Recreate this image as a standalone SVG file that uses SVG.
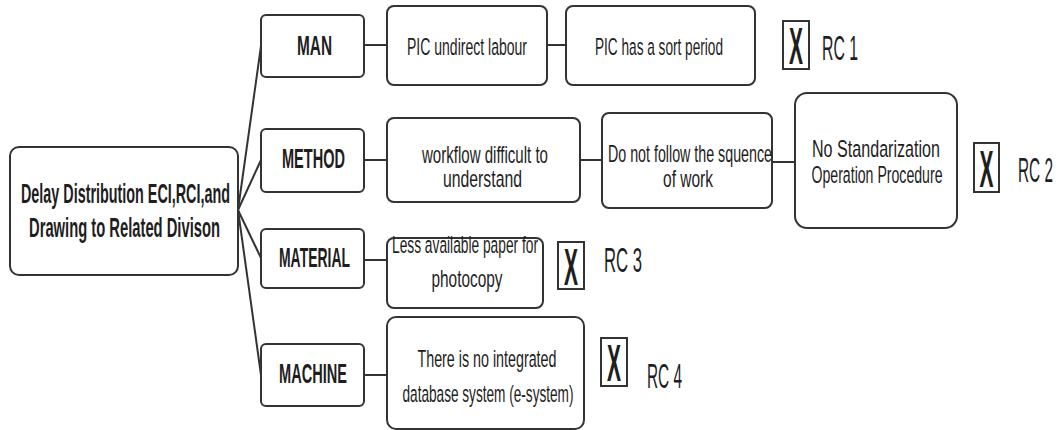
<svg xmlns="http://www.w3.org/2000/svg" width="1062" height="430" viewBox="0 0 1062 430">
  <style>
    .box { fill: #ffffff; stroke: #333333; stroke-width: 2; }
    .mark { fill: #ffffff; stroke: #333333; stroke-width: 2; }
    .link { stroke: #333333; stroke-width: 2; fill: none; }
    text { font-family: "Liberation Sans", Arial, sans-serif; fill: #1e1e1e; text-anchor: middle; }
    /* narrow, tall lettering: small font stretched vertically about its baseline */
    .t { font-size: 14.5px; }
    .b { font-size: 15.5px; font-weight: bold; }
    .x { font-size: 21px; font-weight: bold; }
    .rc { font-size: 15.8px; text-anchor: start; }
  </style>
  <rect width="1062" height="430" fill="#ffffff"/>

  <!-- connectors -->
  <g id="connectors">
    <line class="link" x1="238" y1="210" x2="261" y2="46"/>
    <line class="link" x1="238" y1="210" x2="261" y2="160"/>
    <line class="link" x1="238" y1="210" x2="261" y2="258"/>
    <line class="link" x1="238" y1="210" x2="261" y2="375"/>
    <line class="link" x1="364" y1="45" x2="387" y2="45"/>
    <line class="link" x1="547" y1="45" x2="566" y2="45"/>
    <line class="link" x1="364" y1="160" x2="387" y2="160"/>
    <line class="link" x1="580" y1="160" x2="602" y2="160"/>
    <line class="link" x1="772" y1="162" x2="795" y2="162"/>
    <line class="link" x1="364" y1="260" x2="387" y2="260"/>
    <line class="link" x1="364" y1="375" x2="387" y2="375"/>
  </g>

  <!-- root -->
  <g id="root">
    <rect class="box" x="10" y="147" width="228" height="128" rx="9"/>
    <text class="b" x="125.5" y="203" transform="matrix(1 0 0 1.8 0 -162.4)" textLength="209" lengthAdjust="spacingAndGlyphs">Delay Distribution ECI,RCI,and</text>
    <text class="b" x="124.5" y="237" transform="matrix(1 0 0 1.8 0 -189.6)" textLength="191" lengthAdjust="spacingAndGlyphs">Drawing to Related Divison</text>
  </g>

  <!-- categories -->
  <g id="man">
    <rect class="box" x="261" y="15" width="103" height="62" rx="5"/>
    <text class="b" x="314.5" y="55" transform="matrix(1 0 0 1.8 0 -44)" textLength="35" lengthAdjust="spacingAndGlyphs">MAN</text>
  </g>
  <g id="method">
    <rect class="box" x="261" y="129" width="103" height="63" rx="5"/>
    <text class="b" x="313.5" y="168" transform="matrix(1 0 0 1.8 0 -134.4)" textLength="63" lengthAdjust="spacingAndGlyphs">METHOD</text>
  </g>
  <g id="material">
    <rect class="box" x="261" y="229" width="103" height="59" rx="5"/>
    <text class="b" x="314.5" y="267" transform="matrix(1 0 0 1.8 0 -213.6)" textLength="71" lengthAdjust="spacingAndGlyphs">MATERIAL</text>
  </g>
  <g id="machine">
    <rect class="box" x="261" y="344" width="103" height="62" rx="5"/>
    <text class="b" x="313" y="383" transform="matrix(1 0 0 1.8 0 -306.4)" textLength="68" lengthAdjust="spacingAndGlyphs">MACHINE</text>
  </g>

  <!-- causes -->
  <g id="pic-labour">
    <rect class="box" x="387" y="6" width="160" height="79" rx="7"/>
    <text class="t" x="467" y="55" transform="matrix(1 0 0 1.7 0 -38.5)" textLength="120" lengthAdjust="spacingAndGlyphs">PIC undirect labour</text>
  </g>
  <g id="pic-period">
    <rect class="box" x="566" y="6" width="189" height="79" rx="7"/>
    <text class="t" x="659" y="55" transform="matrix(1 0 0 1.7 0 -38.5)" textLength="128" lengthAdjust="spacingAndGlyphs">PIC has a sort period</text>
  </g>
  <g id="workflow">
    <rect class="box" x="387" y="118" width="193" height="84" rx="7"/>
    <text class="t" x="485" y="163" transform="matrix(1 0 0 1.7 0 -114.1)" textLength="126" lengthAdjust="spacingAndGlyphs">workflow difficult to</text>
    <text class="t" x="482.5" y="187" transform="matrix(1 0 0 1.7 0 -130.9)" textLength="79" lengthAdjust="spacingAndGlyphs">understand</text>
  </g>
  <g id="sequence">
    <rect class="box" x="602" y="113" width="170" height="95" rx="7"/>
    <text class="t" x="690" y="162" transform="matrix(1 0 0 1.7 0 -113.4)" textLength="164" lengthAdjust="spacingAndGlyphs">Do not follow the squence</text>
    <text class="t" x="688" y="187" transform="matrix(1 0 0 1.7 0 -130.9)" textLength="50" lengthAdjust="spacingAndGlyphs">of work</text>
  </g>
  <g id="procedure">
    <rect class="box" x="795" y="93" width="162" height="135" rx="12"/>
    <text class="t" x="876" y="157" transform="matrix(1 0 0 1.7 0 -109.9)" textLength="128" lengthAdjust="spacingAndGlyphs">No Standarization</text>
    <text class="t" x="877" y="183" transform="matrix(1 0 0 1.7 0 -128.1)" textLength="131" lengthAdjust="spacingAndGlyphs">Operation Procedure</text>
  </g>
  <g id="paper">
    <rect class="box" x="387" y="238" width="156" height="70" rx="7"/>
    <text class="t" x="465" y="253" transform="matrix(1 0 0 1.7 0 -177.1)" textLength="146" lengthAdjust="spacingAndGlyphs">Less available paper for</text>
    <text class="t" x="467" y="287" transform="matrix(1 0 0 1.7 0 -200.9)" textLength="71" lengthAdjust="spacingAndGlyphs">photocopy</text>
  </g>
  <g id="database">
    <rect class="box" x="387" y="317" width="197" height="112" rx="9"/>
    <text class="t" x="487" y="367" transform="matrix(1 0 0 1.7 0 -256.9)" textLength="139" lengthAdjust="spacingAndGlyphs">There is no integrated</text>
    <text class="t" x="488" y="402" transform="matrix(1 0 0 1.7 0 -281.4)" textLength="171" lengthAdjust="spacingAndGlyphs">database system (e-system)</text>
  </g>

  <!-- root cause marks -->
  <g id="rc1">
    <rect class="mark" x="783" y="21" width="26" height="48"/>
    <text class="x" x="796" y="64" transform="matrix(1 0 0 2.5 0 -96)" textLength="14" lengthAdjust="spacingAndGlyphs">X</text>
    <text class="rc" x="822" y="60" transform="matrix(1 0 0 2.2 0 -72)" textLength="36" lengthAdjust="spacingAndGlyphs">RC 1</text>
  </g>
  <g id="rc2">
    <rect class="mark" x="974" y="143" width="25" height="49"/>
    <text class="x" x="986.5" y="187" transform="matrix(1 0 0 2.5 0 -280.5)" textLength="14" lengthAdjust="spacingAndGlyphs">X</text>
    <text class="rc" x="1018" y="182" transform="matrix(1 0 0 2.2 0 -218.4)" textLength="35" lengthAdjust="spacingAndGlyphs">RC 2</text>
  </g>
  <g id="rc3">
    <rect class="mark" x="558" y="242" width="26" height="47"/>
    <text class="x" x="571" y="285" transform="matrix(1 0 0 2.5 0 -427.5)" textLength="14" lengthAdjust="spacingAndGlyphs">X</text>
    <text class="rc" x="604" y="272" transform="matrix(1 0 0 2.2 0 -326.4)" textLength="38" lengthAdjust="spacingAndGlyphs">RC 3</text>
  </g>
  <g id="rc4">
    <rect class="mark" x="601" y="338" width="26" height="48"/>
    <text class="x" x="614" y="381" transform="matrix(1 0 0 2.5 0 -571.5)" textLength="14" lengthAdjust="spacingAndGlyphs">X</text>
    <text class="rc" x="647" y="388" transform="matrix(1 0 0 2.2 0 -465.6)" textLength="35" lengthAdjust="spacingAndGlyphs">RC 4</text>
  </g>
</svg>
